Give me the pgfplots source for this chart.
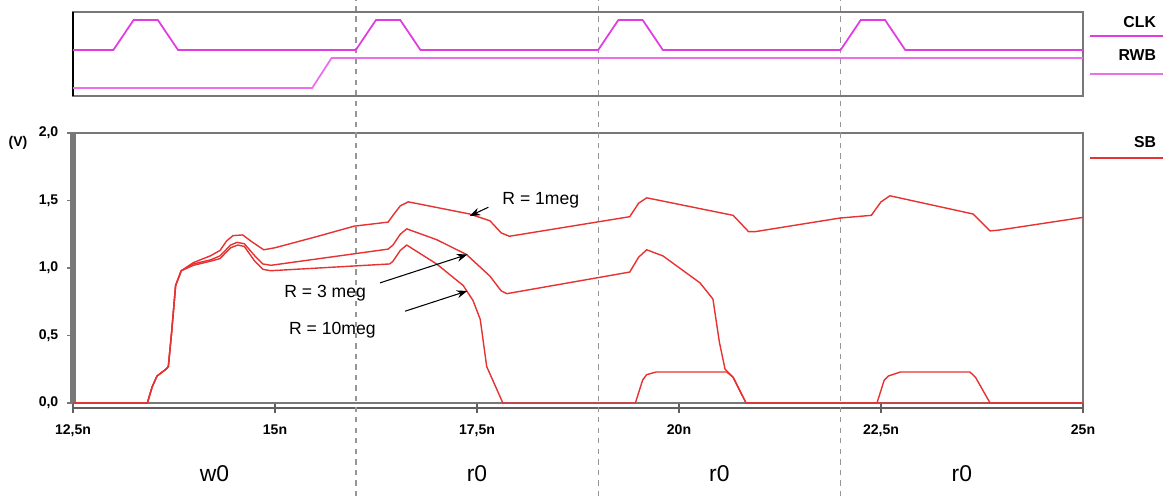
\documentclass[border=0pt]{standalone}
\usepackage{fontspec}
\setmainfont{Liberation Sans}
\usepackage{pgfplots}
\pgfplotsset{compat=1.18}
\usetikzlibrary{arrows.meta}
\definecolor{trace}{RGB}{230,50,50}
\definecolor{clk}{RGB}{225,60,225}
\definecolor{rwb}{RGB}{235,110,235}
\definecolor{framegray}{RGB}{120,120,120}
\definecolor{dashgray}{RGB}{150,150,150}
\begin{document}
\begin{tikzpicture}
\useasboundingbox (0,0) rectangle (23.26cm,-9.92cm);
% lower panel: SB
\begin{axis}[at={(1.46cm,-8.06cm)},anchor=south west,
  width=20.2cm,height=5.4cm,scale only axis,
  xmin=12.5,xmax=25,ymin=0,ymax=2,clip=false,
  axis line style={draw=framegray,line width=1pt},
  xtick={12.5,15,17.5,20,22.5,25},
  xticklabels={{12,5n},{15n},{17,5n},{20n},{22,5n},{25n}},
  ytick={0,0.5,1,1.5,2},
  xtick pos=bottom,ytick pos=left,
  tick align=outside,
  xtick style={draw=framegray!80!black,line width=1pt,/pgfplots/major tick length=0.2cm},
  ytick style={draw=framegray,line width=0.8pt,/pgfplots/major tick length=0.12cm},
  /pgf/number format/assume math mode=true,
  /pgf/number format/.cd,use comma,fixed,fixed zerofill,precision=1,
  /pgfplots/.cd,
  ticklabel style={font=\fontsize{8}{9}\selectfont\bfseries},
  xticklabel style={yshift=-0.16cm},
  yticklabel style={xshift=-0.02cm},
]
\draw[framegray,line width=3pt] (rel axis cs:0,0) -- (rel axis cs:0,1);
\draw[framegray!80!black,line width=1.2pt] ([yshift=-0.1cm]rel axis cs:0,0) -- ([yshift=-0.1cm]rel axis cs:1,0);
\addplot[dashgray,dashed,line width=0.8pt] coordinates {(16,-0.69) (16,2.985)};
\addplot[dashgray,dashed,line width=0.8pt] coordinates {(19,-0.69) (19,2.985)};
\addplot[dashgray,dashed,line width=0.8pt] coordinates {(22,-0.69) (22,2.985)};
% R = 1meg
\addplot[trace,line width=0.8pt] coordinates {
(12.5,0) (13.42,0) (13.48,0.12) (13.54,0.20) (13.65,0.25) (13.68,0.27) (13.72,0.52)
(13.77,0.87) (13.84,0.98) (13.99,1.04) (14.20,1.09) (14.32,1.13) (14.40,1.20) (14.48,1.24)
(14.60,1.245) (14.70,1.20) (14.86,1.135) (15.0,1.15) (15.5,1.23) (15.98,1.31) (16.40,1.34)
(16.46,1.39) (16.55,1.46) (16.65,1.49) (17.41,1.40) (17.66,1.35) (17.80,1.26) (17.90,1.235)
(19.39,1.38) (19.50,1.48) (19.60,1.52) (20.67,1.39) (20.86,1.27) (20.95,1.27) (21.99,1.37)
(22.38,1.39) (22.50,1.49) (22.61,1.535) (23.64,1.40) (23.85,1.275) (23.95,1.28) (25,1.375)};
% R = 3meg
\addplot[trace,line width=0.8pt] coordinates {
(12.5,0) (13.42,0) (13.48,0.12) (13.54,0.20) (13.65,0.25) (13.68,0.27) (13.72,0.52)
(13.77,0.87) (13.84,0.98) (13.99,1.03) (14.20,1.06) (14.32,1.09) (14.45,1.17) (14.53,1.19)
(14.62,1.18) (14.75,1.09) (14.85,1.03) (14.95,1.02) (16.40,1.14) (16.46,1.17) (16.55,1.25)
(16.63,1.29) (17.00,1.21) (17.37,1.10) (17.66,0.94) (17.80,0.83) (17.87,0.81) (19.39,0.97)
(19.50,1.08) (19.60,1.135) (19.80,1.09) (20.26,0.89) (20.42,0.77) (20.50,0.45) (20.57,0.25)
(20.67,0.19) (20.83,0) (25,0)};
% R = 10meg
\addplot[trace,line width=0.8pt] coordinates {
(12.5,0) (13.42,0) (13.48,0.12) (13.54,0.20) (13.65,0.25) (13.68,0.27) (13.72,0.52)
(13.77,0.87) (13.84,0.98) (13.99,1.02) (14.20,1.05) (14.32,1.07) (14.45,1.15) (14.54,1.17)
(14.62,1.16) (14.75,1.05) (14.85,0.99) (14.95,0.98) (16.42,1.03) (16.46,1.05) (16.55,1.13)
(16.63,1.17) (17.00,1.03) (17.33,0.87) (17.45,0.76) (17.54,0.62) (17.62,0.27) (17.82,0)
(19.46,0) (19.55,0.17) (19.60,0.21) (19.72,0.23) (20.59,0.23) (20.67,0.19) (20.83,0)
(22.45,0) (22.54,0.17) (22.59,0.20) (22.74,0.23) (23.60,0.23) (23.67,0.19) (23.85,0) (25,0)};
% annotations
\node[font=\fontsize{10}{12}\selectfont] at (axis cs:18.29,1.50) {R = 1meg};
\draw[-{Stealth[length=6pt]},line width=0.6pt] (axis cs:17.64,1.45) -- (axis cs:17.41,1.385);
\node[font=\fontsize{10}{12}\selectfont] at (axis cs:15.62,0.815) {R = 3 meg};
\draw[-{Stealth[length=6pt]},line width=0.6pt] (axis cs:16.30,0.89) -- (axis cs:17.38,1.10);
\node[font=\fontsize{10}{12}\selectfont] at (axis cs:15.71,0.54) {R = 10meg};
\draw[-{Stealth[length=6pt]},line width=0.6pt] (axis cs:16.61,0.68) -- (axis cs:17.38,0.83);
\node[font=\fontsize{8}{9}\selectfont\bfseries] at (axis cs:11.82,1.93) {(V)};
\node[font=\fontsize{13}{15}\selectfont] at (axis cs:14.25,-0.52) {w0};
\node[font=\fontsize{13}{15}\selectfont] at (axis cs:17.5,-0.52) {r0};
\node[font=\fontsize{13}{15}\selectfont] at (axis cs:20.5,-0.52) {r0};
\node[font=\fontsize{13}{15}\selectfont] at (axis cs:23.5,-0.52) {r0};
% legend SB
\node[anchor=east,font=\fontsize{9}{10}\selectfont\bfseries] at (axis cs:25.98,1.93) {SB};
\draw[trace,line width=1pt] (axis cs:25.09,1.815) -- (axis cs:25.99,1.815);
\end{axis}
% upper panel: CLK, RWB
\begin{axis}[at={(1.46cm,-1.92cm)},anchor=south west,
  width=20.2cm,height=1.68cm,scale only axis,
  xmin=12.5,xmax=25,ymin=0,ymax=1,clip=false,
  axis line style={draw=framegray,line width=1pt},
  xtick=\empty,ytick=\empty]
\draw[black,line width=1.5pt] (rel axis cs:0,0) -- (rel axis cs:0,1);
\addplot[clk,line width=1pt] coordinates {
(12.5,0.548) (13.0,0.548) (13.25,0.905) (13.55,0.905) (13.8,0.548)
(16.0,0.548) (16.25,0.905) (16.55,0.905) (16.8,0.548)
(19.0,0.548) (19.25,0.905) (19.55,0.905) (19.8,0.548)
(22.0,0.548) (22.25,0.905) (22.55,0.905) (22.8,0.548) (25,0.548)};
\addplot[rwb,line width=1pt] coordinates {
(12.5,0.095) (15.46,0.095) (15.70,0.452) (25,0.452)};
\node[anchor=east,font=\fontsize{9}{10}\selectfont\bfseries] at (axis cs:25.98,0.88) {CLK};
\draw[clk,line width=1pt] (axis cs:25.09,0.714) -- (axis cs:25.99,0.714);
\node[anchor=east,font=\fontsize{9}{10}\selectfont\bfseries] at (axis cs:25.98,0.488) {RWB};
\draw[rwb,line width=1pt] (axis cs:25.09,0.262) -- (axis cs:25.99,0.262);
\end{axis}
\end{tikzpicture}
\end{document}
